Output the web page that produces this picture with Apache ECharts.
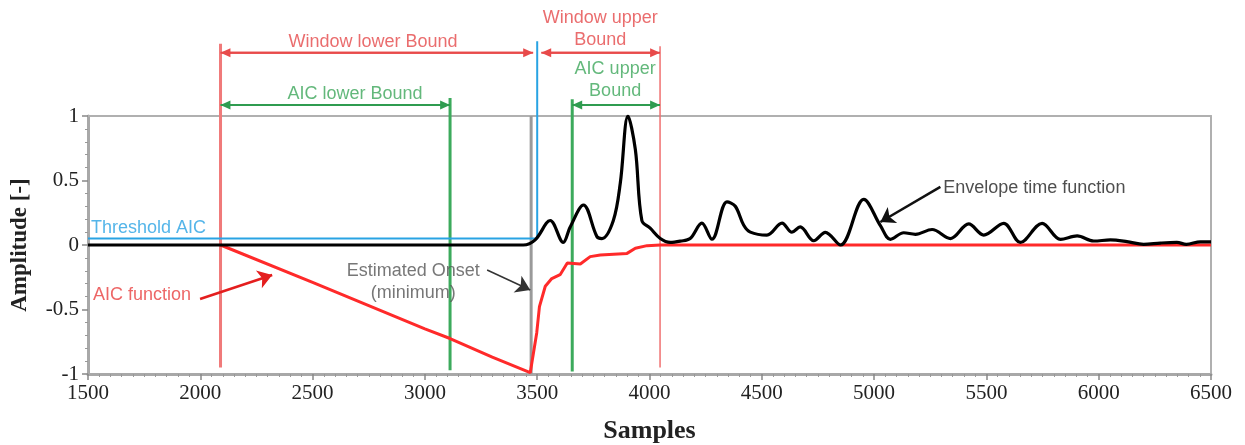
<!DOCTYPE html>
<html>
<head>
<meta charset="utf-8">
<title>AIC onset picking</title>
<script src="https://cdn.jsdelivr.net/npm/echarts@6/dist/echarts.min.js"></script>
<style>
  html, body { margin: 0; padding: 0; background: #fff; }
  #chart { width: 1245px; height: 445px; }
</style>
</head>
<body>
<div id="chart"></div>
<script>
// envelope time function (black curve)
const envSamples = [1500, 3300, 3438, 3491, 3558, 3616, 3647, 3706, 3766, 3788, 3839, 3870, 3904, 3937, 3966,
  4003, 4048, 4092, 4137, 4181, 4233, 4278, 4345, 4382, 4419, 4449, 4523, 4590, 4634, 4671, 4731, 4783, 4850,
  4954, 5028, 5073, 5132, 5184, 5258, 5340, 5421, 5488, 5577, 5651, 5748, 5830, 5904, 5978, 6052, 6126, 6200,
  6275, 6348, 6390, 6453, 6500]
const envAmp = [0, 0, 0, 0.04, 0.19, 0.02, 0.14, 0.31, 0.065, 0.05, 0.19, 0.48, 1.0, 0.74, 0.19,
  0.13, 0.05, 0.02, 0.03, 0.05, 0.17, 0.045, 0.335, 0.3, 0.155, 0.1, 0.077, 0.17, 0.1, 0.14, 0.033, 0.098, 0.0,
  0.354, 0.15, 0.044, 0.095, 0.083, 0.12, 0.05, 0.163, 0.077, 0.168, 0.02, 0.168, 0.044, 0.07, 0.031, 0.039, 0.026, 0.005,
  0.015, 0.02, 0.005, 0.025, 0.025]

// AIC function (red curve)
const aicSamples = [2090, 2500, 3000, 3112, 3300, 3469, 3476, 3498, 3510, 3536, 3565, 3602, 3634, 3692, 3736,
  3781, 3900, 3937, 3989, 4048, 6500]
const aicAmp = [0, -0.29, -0.65, -0.725, -0.87, -0.99, -1.0, -0.68, -0.478, -0.32, -0.26, -0.23, -0.14, -0.147, -0.09,
  -0.077, -0.065, -0.025, -0.005, 0, 0]

// threshold AIC (blue)
const thresholdSamples = [1500, 3500, 3500]
const thresholdAmp = [0.05, 0.05, 1.58]

// vertical bound lines: window lower, AIC lower, estimated onset, AIC upper, window upper
const boundSamples = [2090, 3112, 3473, 3656, 4047]
const boundTop = [1.56, 1.14, 1.0, 1.13, 1.54]
const boundBottom = [-0.95, -0.97, -1.0, -0.98, -0.95]

// double arrows: window lower, window upper, AIC lower, AIC upper
const spanFrom = [2090, 3518, 2090, 3656]
const spanTo = [3482, 4047, 3112, 4047]
const spanLevel = [1.49, 1.49, 1.085, 1.085]

// pointer arrows: AIC function, estimated onset, envelope
const pointerFrom = [[1999, -0.419], [3277, -0.194], [5295, 0.45]]
const pointerTo = [[2320, -0.233], [3469, -0.349], [5028, 0.178]]

// annotations
const noteText = ['Window lower Bound', 'Window upper\nBound', 'AIC lower Bound', 'AIC upper\nBound',
  'Threshold AIC', 'AIC function', 'Estimated Onset\n(minimum)', 'Envelope time function']
const noteX = [2769, 3781, 2689, 3847, 1513, 1522, 2948, 5308]
const noteY = [1.574, 1.674, 1.17, 1.275, 0.132, -0.388, -0.287, 0.442]

// axes
const xMin = 1500, xMax = 6500, xStep = 500
const yMin = -1, yMax = 1, yStep = 0.5

const GREEN = '#3caa5c'
const BLUE = '#29a3e3'
const GRAY = '#9a9a9a'

const boundColors = ['#f07a7a', GREEN, GRAY, GREEN, '#f07070']
const boundWidths = [3, 3, 3, 3, 1.5]
const spanColors = ['#e84a4a', '#e84a4a', '#2f9c50', '#2f9c50']
const noteColors = ['#e5484a', '#e5484a', '#3ca65a', '#3ca65a', BLUE, '#e84040', '#555', '#222']
const noteLeft = [false, false, false, false, true, true, false, true]
const pointerColors = ['#e41e1e', '#333', '#111']

const pairs = (xs, ys) => xs.map((x, i) => [x, ys[i]])

const myChart = echarts.init(document.getElementById('chart'))

const series = []

boundSamples.forEach((x, i) => {
  series.push({
    type: 'line',
    clip: false,
    symbol: 'none',
    silent: true,
    data: [[x, boundBottom[i]], [x, boundTop[i]]],
    lineStyle: { color: boundColors[i], width: boundWidths[i] },
    z: 2
  })
})

spanFrom.forEach((x, i) => {
  series.push({
    type: 'line',
    clip: false,
    silent: true,
    symbol: 'triangle',
    symbolSize: [9, 10],
    data: [
      { value: [x + 22, spanLevel[i]], symbolRotate: 90 },
      { value: [spanTo[i] - 22, spanLevel[i]], symbolRotate: -90 }
    ],
    itemStyle: { color: spanColors[i] },
    lineStyle: { color: spanColors[i], width: 2 },
    z: 3
  })
  series.push({
    type: 'line',
    clip: false,
    silent: true,
    symbol: 'none',
    data: [[x, spanLevel[i]], [spanTo[i], spanLevel[i]]],
    lineStyle: { color: spanColors[i], width: 2 },
    z: 3
  })
})

series.push({
  name: 'Threshold AIC',
  type: 'line',
  clip: false,
  symbol: 'none',
  data: pairs(thresholdSamples, thresholdAmp),
  lineStyle: { color: BLUE, width: 2 },
  z: 4
})

series.push({
  name: 'AIC function',
  type: 'line',
  symbol: 'none',
  data: pairs(aicSamples, aicAmp),
  lineStyle: { color: '#ff2a2a', width: 3 },
  z: 5
})

series.push({
  name: 'Envelope time function',
  type: 'line',
  symbol: 'none',
  smooth: 0.35,
  data: pairs(envSamples, envAmp),
  lineStyle: { color: '#000', width: 3.2 },
  z: 6
})

series.push({
  type: 'line',
  symbol: 'none',
  data: [],
  silent: true,
  markLine: {
    silent: true,
    animation: false,
    symbol: ['none', 'arrow'],
    symbolSize: 14,
    label: { show: false },
    data: pointerFrom.map((p, i) => [
      {
        coord: p,
        lineStyle: { color: pointerColors[i], width: i === 1 ? 1.5 : 2.5, type: 'solid' },
        itemStyle: { color: pointerColors[i] }
      },
      { coord: pointerTo[i] }
    ])
  },
  z: 7
})

series.push({
  type: 'scatter',
  clip: false,
  silent: true,
  symbolSize: 1,
  itemStyle: { color: 'rgba(0,0,0,0)' },
  data: noteText.map((t, i) => ({
    value: [noteX[i], noteY[i]],
    label: {
      show: true,
      position: 'inside',
      formatter: t,
      align: noteLeft[i] ? 'left' : 'center',
      verticalAlign: 'middle',
      color: noteColors[i],
      fontFamily: 'Liberation Sans',
      fontSize: 18,
      lineHeight: 22
    }
  })),
  z: 8
})

myChart.setOption({
  animation: false,
  grid: { left: 88, right: 34, top: 116, bottom: 71, outerBoundsMode: 'none' },
  xAxis: [
    {
      type: 'value',
      min: xMin,
      max: xMax,
      interval: xStep,
      name: 'Samples',
      nameLocation: 'middle',
      nameGap: 44,
      nameTextStyle: { fontFamily: 'Liberation Serif', fontWeight: 'bold', fontSize: 26, color: '#222' },
      axisLine: { onZero: false, lineStyle: { color: '#a8a8a8', width: 3 } },
      axisTick: { length: 6, lineStyle: { color: '#888', width: 1.5 } },
      minorTick: { show: true, splitNumber: 10, length: 3, lineStyle: { color: '#999' } },
      splitLine: { show: false },
      axisLabel: {
        fontFamily: 'Liberation Serif',
        fontSize: 21,
        color: '#222',
        margin: 9,
        formatter: v => String(v)
      }
    },
    {
      type: 'value',
      position: 'top',
      min: xMin,
      max: xMax,
      axisLine: { onZero: false, lineStyle: { color: '#b0b0b0', width: 2 } },
      axisTick: { show: false },
      axisLabel: { show: false },
      splitLine: { show: false }
    }
  ],
  yAxis: [
    {
      type: 'value',
      min: yMin,
      max: yMax,
      interval: yStep,
      name: 'Amplitude [-]',
      nameLocation: 'middle',
      nameGap: 56,
      nameTextStyle: { fontFamily: 'Liberation Serif', fontWeight: 'bold', fontSize: 23, color: '#222' },
      axisLine: { onZero: false, lineStyle: { color: '#a8a8a8', width: 3 } },
      axisTick: { length: 6, lineStyle: { color: '#888', width: 1.5 } },
      minorTick: { show: true, splitNumber: 5, length: 3, lineStyle: { color: '#999' } },
      splitLine: { show: false },
      axisLabel: { fontFamily: 'Liberation Serif', fontSize: 21, color: '#222', margin: 9 }
    },
    {
      type: 'value',
      position: 'right',
      min: yMin,
      max: yMax,
      axisLine: { onZero: false, lineStyle: { color: '#b0b0b0', width: 2 } },
      axisTick: { show: false },
      axisLabel: { show: false },
      splitLine: { show: false }
    }
  ],
  series: series
})
</script>
</body>
</html>
